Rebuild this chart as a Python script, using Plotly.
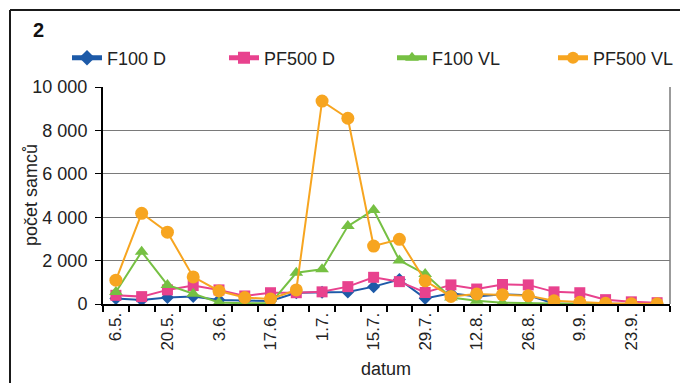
import plotly.graph_objects as go

dates = ["6.5.", "13.5.", "20.5.", "27.5.", "3.6.", "10.6.", "17.6.", "24.6.", "1.7.", "8.7.",
         "15.7.", "22.7.", "29.7.", "5.8.", "12.8.", "19.8.", "26.8.", "2.9.", "9.9.", "16.9.",
         "23.9.", "30.9."]

f100_d = [250, 180, 300, 350, 180, 150, 140, 520, 540, 550, 800, 1130, 260, 500, 350, 450, 400, 20, 10, 0, 0, 0]
pf500_d = [400, 340, 650, 850, 650, 370, 520, 520, 560, 800, 1230, 1030, 530, 880, 690, 900, 880, 560, 520, 200, 100, 60]
f100_vl = [550, 2410, 880, 470, 70, 30, 30, 1440, 1600, 3590, 4330, 2010, 1380, 300, 150, 60, 30, 0, 0, 0, 0, 0]
pf500_vl = [1100, 4180, 3310, 1250, 600, 300, 230, 650, 9350, 8560, 2670, 2980, 1070, 350, 460, 430, 380, 150, 80, 30, 10, 10]

series = [
    ("F100 D", f100_d, "#1d5aa8", "diamond", 10, "legend", 67),
    ("PF500 D", pf500_d, "#e8428e", "square", 11, "legend2", 224),
    ("F100 VL", f100_vl, "#76c043", "triangle-up", 12, "legend3", 392),
    ("PF500 VL", pf500_vl, "#f7a520", "circle", 13, "legend4", 553),
]

# screen-pixel geometry (page has an 8px body margin)
OFF = 8
L, R, T, B = 103, 670, 87, 304
W, H = R - L, B - T


def px(x):
    return (x - L) / W


def py(y):
    return (B - y) / H


idx = list(range(len(dates)))
fig = go.Figure()
legends = {}
for name, vals, col, sym, sz, lg, lx in series:
    fig.add_trace(go.Scatter(
        x=idx, y=vals, name=name, mode="lines+markers",
        line=dict(color=col, width=2),
        marker=dict(symbol=sym, size=sz, color=col),
        legend=lg,
    ))
    legends[lg] = dict(orientation="h", x=px(lx), y=py(58), xanchor="left", yanchor="middle",
                       font=dict(size=18), bgcolor="rgba(0,0,0,0)", itemsizing="constant")

font = "Liberation Sans, Arial, sans-serif"
frame = dict(color="#1a1a1a", width=2)
fig.update_layout(
    width=688 - OFF, height=383 - OFF,
    margin=dict(l=L - OFF, r=688 - R, t=T - OFF, b=383 - B, autoexpand=False),
    paper_bgcolor="white", plot_bgcolor="white",
    font=dict(family=font, size=18, color="#222"),
    separators=", ",
    showlegend=True,
    xaxis=dict(
        range=[-0.5, len(dates) - 0.5],
        tickmode="array", tickvals=idx[::2], ticktext=dates[::2],
        tickangle=-90, ticks="outside", ticklen=0, tickfont=dict(size=17),
        showgrid=False, zeroline=False,
        showline=True, linecolor="black", linewidth=2,
        minor=dict(tickmode="array", tickvals=[i - 0.5 for i in range(len(dates) + 1)],
                   ticks="outside", ticklen=6, tickcolor="black", tickwidth=1.5, showgrid=False),
    ),
    yaxis=dict(
        range=[0, 10000], tickmode="linear", tick0=0, dtick=2000, tickformat=",d",
        ticks="outside", ticklen=6, tickcolor="black", ticklabelstandoff=4,
        showgrid=True, gridcolor="#7a7a7a", gridwidth=1,
        zeroline=False, showline=True, linecolor="black", linewidth=2,
        tickfont=dict(size=18),
    ),
    annotations=[
        dict(text="<b>2</b>", x=px(38), y=py(30), xref="paper", yref="paper", showarrow=False,
             xanchor="center", yanchor="middle", font=dict(size=20, color="#111")),
        dict(text="počet samců", xref="paper", yref="paper", x=px(31), y=py(195),
             xanchor="center", yanchor="middle",
             textangle=-90, showarrow=False, font=dict(size=18)),
        dict(text="datum", xref="paper", yref="paper", x=px(386), y=py(369),
             xanchor="center", yanchor="middle",
             showarrow=False, font=dict(size=18)),
    ],
    shapes=[
        dict(type="line", xref="paper", yref="paper", x0=1, x1=1, y0=0, y1=1,
             line=dict(color="#7a7a7a", width=1.5)),
        dict(type="line", xref="paper", yref="paper", x0=px(10), x1=px(683), y0=py(10), y1=py(10),
             line=frame, layer="above"),
        dict(type="line", xref="paper", yref="paper", x0=px(10), x1=px(10), y0=py(10), y1=py(383),
             line=frame, layer="above"),
        dict(type="line", xref="paper", yref="paper", x0=px(683), x1=px(683), y0=py(10), y1=py(383),
             line=frame, layer="above"),
    ],
)
fig.update_layout(**legends)

fig.write_html("out.html")
